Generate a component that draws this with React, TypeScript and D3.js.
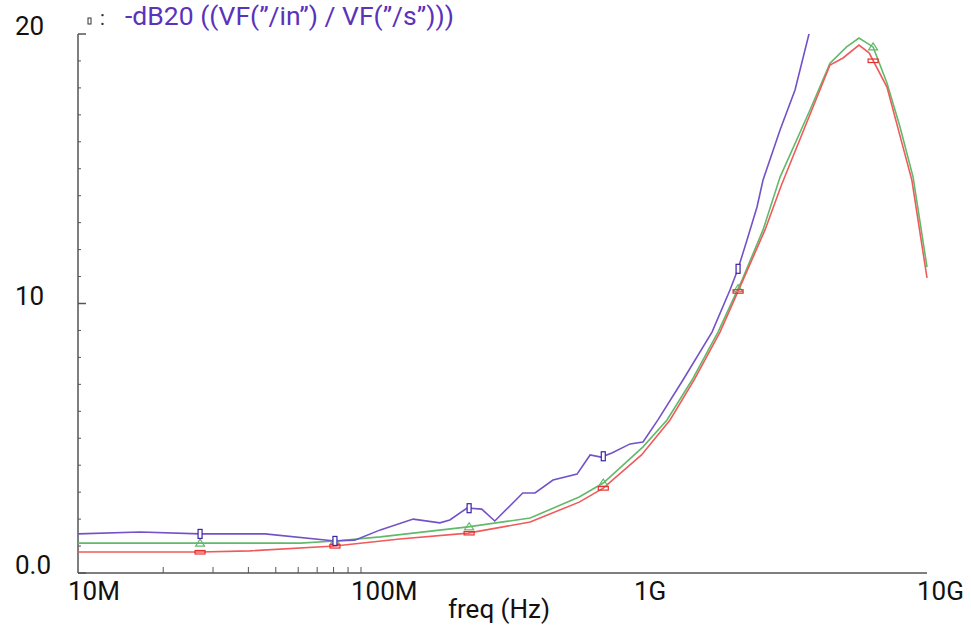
import React from "react";
import * as d3 from "d3";

const W = 971;
const H = 627;

const purpleFreq = [1e7, 1.66e7, 2.7e7, 4.58e7, 8.09e7, 9.5e7, 1.17e8, 1.53e8, 1.9e8, 2.06e8, 2.37e8, 2.67e8, 2.97e8, 3.73e8, 4.12e8, 4.77e8, 5.8e8, 6.45e8, 7.05e8, 7.7e8, 8.93e8, 9.92e8, 1.12e9, 1.373e9, 1.739e9, 2.013e9, 2.149e9, 2.312e9, 2.508e9, 2.634e9, 3.025e9, 3.417e9, 3.828e9, 4.0e9];
const purpleVal = [1.45, 1.52, 1.45, 1.45, 1.19, 1.22, 1.6, 2.0, 1.86, 1.97, 2.41, 2.37, 1.93, 2.97, 2.97, 3.45, 3.67, 4.38, 4.3, 4.45, 4.79, 4.86, 5.68, 7.16, 8.94, 10.5, 11.28, 12.36, 13.58, 14.58, 16.44, 17.92, 20.0, 21.1];

const greenFreq = [1e7, 2.7e7, 6.1e7, 8.09e7, 1.17e8, 2.39e8, 3.96e8, 5.9e8, 7.18e8, 9.92e8, 1.206e9, 1.478e9, 1.826e9, 2.22e9, 2.634e9, 3.025e9, 3.86e9, 4.542e9, 5.2e9, 5.75e9, 6.45e9, 7.22e9, 8.03e9, 8.93e9, 1e10];
const greenVal = [1.11, 1.11, 1.11, 1.19, 1.34, 1.71, 2.04, 2.82, 3.34, 4.68, 5.68, 7.16, 8.94, 10.87, 12.73, 14.69, 17.18, 18.92, 19.52, 19.85, 19.52, 18.18, 16.55, 14.69, 11.35];

const redFreq = [1e7, 2.7e7, 4.05e7, 8.09e7, 1.37e8, 2.39e8, 3.96e8, 5.9e8, 7.18e8, 9.8e8, 1.236e9, 1.502e9, 1.856e9, 2.238e9, 2.677e9, 3.06e9, 4.542e9, 5.05e9, 5.75e9, 6.25e9, 7.22e9, 8.84e9, 1e10];
const redVal = [0.78, 0.78, 0.82, 1.0, 1.26, 1.48, 1.89, 2.63, 3.15, 4.38, 5.68, 7.16, 8.94, 10.87, 12.73, 14.4, 18.85, 19.11, 19.59, 19.29, 18.03, 14.58, 10.95];

const markerFreq = [2.7e7, 8.09e7, 2.41e8, 7.18e8, 2.15e9, 6.45e9];

const xTickVals = [1e7, 1e8, 1e9, 1e10];
const xTickLabels = ["10M", "100M", "1G", "10G"];
const xMinorTicks = [2e7, 3e7, 4e7, 5e7, 6e7, 7e7, 8e7, 9e7, 1e8];
const yTickVals = [0, 10, 20];
const yTickLabels = ["0.0", "10", "20"];
const yMinorTicks = d3.range(0, 21, 1);

const title = "-dB20 ((VF(\u201d/in\u201d) / VF(\u201d/s\u201d)))";
const xTitle = "freq (Hz)";

const PURPLE = "#7352c8";
const PURPLE_M = "#3d22a6";
const GREEN = "#62b96a";
const RED = "#f05a5a";
const RED_M = "#e53030";
const AXIS = "#555";
const FONT = "Roboto, 'Noto Sans', sans-serif";

export default function App() {
  const x = d3.scaleLog().domain([1e7, 1e10]).range([78, 927]);
  const y = d3.scaleLinear().domain([0, 20]).range([573, 34]);

  const mk = (fs: number[], vs: number[]) =>
    fs.map((f, i) => ({ f, v: vs[i] }));
  const series = [
    { key: "g", pts: mk(greenFreq, greenVal), color: GREEN, mcolor: GREEN, shape: "tri" },
    { key: "r", pts: mk(redFreq, redVal), color: RED, mcolor: RED_M, shape: "hrect" },
    { key: "p", pts: mk(purpleFreq, purpleVal), color: PURPLE, mcolor: PURPLE_M, shape: "vrect" },
  ];

  const line = d3
    .line<{ f: number; v: number }>()
    .x((d) => x(d.f))
    .y((d) => y(d.v));

  const interp = (pts: { f: number; v: number }[], f: number) => {
    const bis = d3.bisector((d: { f: number }) => d.f).left;
    const i = bis(pts, f);
    if (i <= 0) return pts[0].v;
    if (i >= pts.length) return pts[pts.length - 1].v;
    const a = pts[i - 1], b = pts[i];
    const t = (Math.log(f) - Math.log(a.f)) / (Math.log(b.f) - Math.log(a.f));
    return a.v + t * (b.v - a.v);
  };

  const marker = (shape: string, cx: number, cy: number, color: string, k: string) => {
    if (shape === "vrect")
      return <rect key={k} x={cx - 2} y={cy - 4.5} width={4} height={9} fill="white" stroke={color} strokeWidth={1.2} />;
    if (shape === "hrect")
      return <rect key={k} x={cx - 5} y={cy - 1.5} width={10} height={3.5} fill="none" stroke={color} strokeWidth={1.2} />;
    return (
      <path key={k} d={`M${cx - 4.5},${cy + 3} L${cx + 4.5},${cy + 3} L${cx},${cy - 4} Z`} fill="none" stroke={color} strokeWidth={1.2} />
    );
  };

  const x0 = 78, x1 = 927, yb = 573, yt = 34;

  return (
    <svg width={W} height={H} style={{ position: "absolute", left: 0, top: 0, background: "white" }} fontFamily={FONT}>
      <defs>
        <clipPath id="plotclip">
          <rect x={x0} y={yt} width={x1 - x0 + 2} height={yb - yt} />
        </clipPath>
      </defs>
      <rect x={0} y={0} width={W} height={H} fill="white" />
      {/* axes */}
      <line x1={x0} y1={yt} x2={x0} y2={yb} stroke={AXIS} strokeWidth={1.5} />
      <line x1={x0} y1={yb} x2={x1} y2={yb} stroke={AXIS} strokeWidth={1.5} />
      {yMinorTicks.map((v) => (
        <line key={"ym" + v} x1={x0} x2={x0 + (v % 10 === 0 ? 8 : 3)} y1={y(v)} y2={y(v)} stroke={AXIS} strokeWidth={v % 10 === 0 ? 1.5 : 1} />
      ))}
      {xMinorTicks.map((f) => (
        <line key={"xm" + f} x1={x(f)} x2={x(f)} y1={yb} y2={yb - 6} stroke={AXIS} strokeWidth={1} />
      ))}
      {yTickVals.map((v, i) => (
        <text key={"yl" + v} x={15} y={y(v) + 1} fontSize={26} fill="#111">
          {yTickLabels[i]}
        </text>
      ))}
      {xTickVals.map((f, i) => (
        <text key={"xl" + f} x={x(f) - 10} y={600} fontSize={26} fill="#111">
          {xTickLabels[i]}
        </text>
      ))}
      <text x={448} y={618} fontSize={26} fill="#111">
        {xTitle}
      </text>
      {/* legend */}
      <rect x={88} y={18} width={3} height={6} fill="none" stroke="#333" strokeWidth={1} />
      <text x={100} y={25} fontSize={20} fill="#333">:</text>
      <text x={125} y={25} fontSize={26.5} fill="#5a32bb">
        {title}
      </text>
      {/* series */}
      <g clipPath="url(#plotclip)">
        {series.map((s) => (
          <path key={s.key} d={line(s.pts) || ""} fill="none" stroke={s.color} strokeWidth={1.6} />
        ))}
        {series.map((s) =>
          markerFreq
            .filter((f) => f <= s.pts[s.pts.length - 1].f)
            .map((f, i) => marker(s.shape, x(f), y(interp(s.pts, f)), s.mcolor, s.key + i))
        )}
      </g>
    </svg>
  );
}
